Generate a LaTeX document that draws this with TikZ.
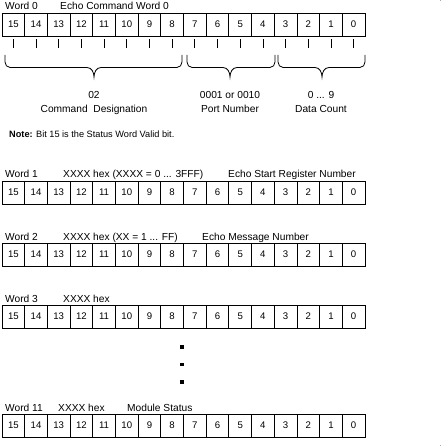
\documentclass[tikz,border=0pt]{standalone}
\usepackage{fontspec}
\setmainfont{Liberation Sans}
\begin{document}
\begin{tikzpicture}[x=1pt,y=-1pt,
  cell/.style={draw,line width=0.8pt,minimum width=22.6875pt,minimum height=23pt,inner sep=0pt,font=\fontsize{9.6}{10}\selectfont},
  lbl/.style={anchor=base west,inner sep=0pt,font=\fontsize{10.2}{11}\selectfont},
  clbl/.style={anchor=base,inner sep=0pt,font=\fontsize{10.2}{11}\selectfont},
  tickln/.style={line width=0.8pt},
  bracel/.style={line width=0.8pt},
  dotsq/.style={fill,inner sep=0pt,minimum size=3.6pt}]
\fill[white] (0,0) rectangle (441,446);
\fill[black!35] (440,445) rectangle (441,446);
\fill[black!35] (440,0) rectangle (441,1);
\useasboundingbox (0,0) rectangle (441,446);
\newcommand\bitrow[2]{%
  \foreach \i in {0,...,15} {
    \node[cell] (#1c\i) at ({2+(15-\i+0.5)*22.6875},{#2+11.5}) {\i};
  }}
% Word 0
\node[lbl] (w0) at (5,10) {Word 0};
\node[lbl] (w0d) at (60,10) {Echo Command Word 0};
\bitrow{r0}{13}
\foreach \i in {0,...,15} {
  \draw[tickln] (r0c\i.south) ++(0,3) -- ++(0,9);
}
% braces
\draw[bracel] (5,55) -- (5,62) to[out=-90,in=180] (10,67.5) -- (87,67.5)
   to[out=0,in=90] (94,77) to[out=90,in=180] (101,67.5) -- (177,67.5)
   to[out=0,in=-90] (182,62) -- (182,55);
\draw[bracel] (187,55) -- (187,62) to[out=-90,in=180] (192,67.5) -- (223,67.5)
   to[out=0,in=90] (230,77) to[out=90,in=180] (237,67.5) -- (270,67.5)
   to[out=0,in=-90] (275,62) -- (275,55);
\draw[bracel] (278,55) -- (278,62) to[out=-90,in=180] (283,67.5) -- (315,67.5)
   to[out=0,in=90] (322,77) to[out=90,in=180] (329,67.5) -- (360,67.5)
   to[out=0,in=-90] (365,62) -- (365,55);
\node[clbl] (b1a) at (94,98.5) {02};
\node[clbl] (b1b) at (94,112.5) {Command\ \ Designation};
\node[clbl] (b2a) at (230,98.5) {0001 or 0010};
\node[clbl] (b2b) at (230,112.5) {Port Number};
\node[clbl] (b3a) at (321,98.5) {0 ... 9};
\node[clbl] (b3b) at (321,112.5) {Data Count};
% note
\node[lbl,font=\fontsize{9.2}{10}\selectfont] (note) at (9,138) {\textbf{Note:} Bit 15 is the Status Word Valid bit.};
% Word 1
\node[lbl] (w1) at (5,178) {Word 1};
\node[lbl] (w1h) at (63,178) {XXXX hex (XXXX = 0 ... 3FFF)};
\node[lbl] (w1d) at (228,178) {Echo Start Register Number};
\bitrow{r1}{181}
% Word 2
\node[lbl] (w2) at (5,240) {Word 2};
\node[lbl] (w2h) at (63,240) {XXXX hex (XX = 1 ... FF)};
\node[lbl] (w2d) at (202,240) {Echo Message Number};
\bitrow{r2}{243}
% Word 3
\node[lbl] (w3) at (5,302) {Word 3};
\node[lbl] (w3h) at (63,302) {XXXX hex};
\bitrow{r3}{305}
% dots
\node[dotsq] (d1) at (182,347) {};
\node[dotsq] (d2) at (182,364.5) {};
\node[dotsq] (d3) at (182,382) {};
% Word 11
\node[lbl] (w11) at (5,411) {Word 11};
\node[lbl] (w11h) at (58,411) {XXXX hex};
\node[lbl] (w11d) at (127,411) {Module Status};
\bitrow{r11}{414}
\end{tikzpicture}
\end{document}
